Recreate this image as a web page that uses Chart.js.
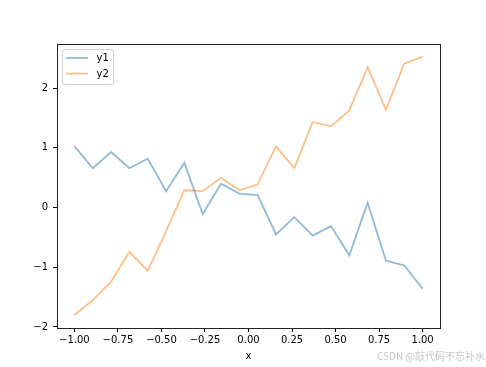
<!DOCTYPE html>
<html>
<head>
<meta charset="utf-8">
<script src="https://cdn.jsdelivr.net/npm/chart.js@4/dist/chart.umd.min.js"></script>
<style>
  body { margin: 0; background: #fff; }
  #wrap { position: relative; width: 486px; height: 367px; }
  #mark {
    position: absolute; left: 377px; top: 348px;
    font: 10px "Noto Sans CJK SC", "DejaVu Sans", sans-serif;
    color: #c8c8c8; white-space: nowrap;
  }
</style>
</head>
<body>
<div id="wrap">
  <canvas id="chart" width="486" height="367"></canvas>
  <div id="mark">CSDN @敲代码不忘补水</div>
</div>
<script>
// x = linspace(-1, 1, 20)
const xs = [-1, -0.8947, -0.7895, -0.6842, -0.5789, -0.4737, -0.3684, -0.2632, -0.1579, -0.0526,
            0.0526, 0.1579, 0.2632, 0.3684, 0.4737, 0.5789, 0.6842, 0.7895, 0.8947, 1];
const y1 = [1.03, 0.66, 0.93, 0.66, 0.82, 0.275, 0.75, -0.11, 0.40, 0.235,
            0.21, -0.45, -0.16, -0.47, -0.31, -0.80, 0.08, -0.89, -0.97, -1.36];
const y2 = [-1.80, -1.55, -1.24, -0.74, -1.06, -0.40, 0.29, 0.275, 0.50, 0.29,
            0.39, 1.025, 0.66, 1.43, 1.36, 1.625, 2.35, 1.64, 2.41, 2.53];
const xTicks = [-1, -0.75, -0.5, -0.25, 0, 0.25, 0.5, 0.75, 1];
const xTickLabels = ['−1.00', '−0.75', '−0.50', '−0.25', '0.00', '0.25', '0.50', '0.75', '1.00'];
const yTicks = [-2, -1, 0, 1, 2];
const yTickLabels = ['−2', '−1', '0', '1', '2'];

const FONT = { family: '"DejaVu Sans", sans-serif', size: 10 };

const toPoints = ys => xs.map((x, i) => ({ x, y: ys[i] }));

// axes frame (matplotlib spines)
const framePlugin = {
  id: 'frame',
  afterDatasetsDraw(chart) {
    const { ctx, chartArea: a } = chart;
    ctx.save();
    ctx.strokeStyle = '#222';
    ctx.lineWidth = 1;
    ctx.strokeRect(Math.round(a.left) + 0.5, Math.round(a.top) + 0.5,
                   Math.round(a.right - a.left), Math.round(a.bottom - a.top));
    ctx.restore();
  }
};

// legend box inside upper-left corner
const legendPlugin = {
  id: 'innerLegend',
  afterDraw(chart) {
    const { ctx, chartArea: a } = chart;
    const x0 = a.left + 5.5, y0 = a.top + 5.5, w = 51, h = 35;
    ctx.save();
    ctx.fillStyle = 'rgba(255,255,255,0.8)';
    ctx.strokeStyle = '#d0d0d0';
    ctx.lineWidth = 1;
    ctx.beginPath();
    ctx.roundRect(x0, y0, w, h, 2);
    ctx.fill();
    ctx.stroke();
    chart.data.datasets.forEach((ds, i) => {
      const y = y0 + 8.5 + i * 15.6;
      ctx.strokeStyle = ds.borderColor;
      ctx.lineWidth = ds.borderWidth;
      ctx.beginPath();
      ctx.moveTo(x0 + 3.5, y);
      ctx.lineTo(x0 + 25.5, y);
      ctx.stroke();
      ctx.fillStyle = '#000';
      ctx.font = `${FONT.size}px ${FONT.family}`;
      ctx.textBaseline = 'middle';
      ctx.fillText(ds.label, x0 + 34, y + 0.5);
    });
    ctx.restore();
  }
};

new Chart(document.getElementById('chart'), {
  type: 'line',
  data: {
    datasets: [
      { label: 'y1', data: toPoints(y1), borderColor: 'rgba(31,119,180,0.5)', borderWidth: 1.8,
        pointRadius: 0, fill: false, tension: 0 },
      { label: 'y2', data: toPoints(y2), borderColor: 'rgba(255,127,14,0.5)', borderWidth: 1.8,
        pointRadius: 0, fill: false, tension: 0 },
    ],
  },
  options: {
    responsive: false,
    devicePixelRatio: 1,
    animation: false,
    layout: { padding: { top: 44, right: 46, left: 0, bottom: 0 } },
    plugins: { legend: { display: false }, tooltip: { enabled: false } },
    scales: {
      x: {
        type: 'linear',
        min: -1.1,
        max: 1.1,
        afterBuildTicks: s => { s.ticks = xTicks.map(v => ({ value: v })); },
        afterFit: s => { s.height = 39; },
        ticks: {
          color: '#000', font: FONT, padding: 2, maxRotation: 0, autoSkip: false,
          callback: (v, i) => xTickLabels[i],
        },
        grid: { drawOnChartArea: false, tickLength: 4, color: '#000', tickWidth: 1 },
        border: { display: false },
        title: { display: true, text: 'x', color: '#000', font: FONT, padding: { top: 0, bottom: 5 } },
      },
      y: {
        type: 'linear',
        min: -2.017,
        max: 2.74,
        afterBuildTicks: s => { s.ticks = yTicks.map(v => ({ value: v })); },
        afterFit: s => { s.width = 57; },
        ticks: {
          color: '#000', font: FONT, padding: 5, autoSkip: false,
          callback: (v, i) => yTickLabels[i],
        },
        grid: { drawOnChartArea: false, tickLength: 4, color: '#000', tickWidth: 1 },
        border: { display: false },
      },
    },
  },
  plugins: [framePlugin, legendPlugin],
});
</script>
</body>
</html>
